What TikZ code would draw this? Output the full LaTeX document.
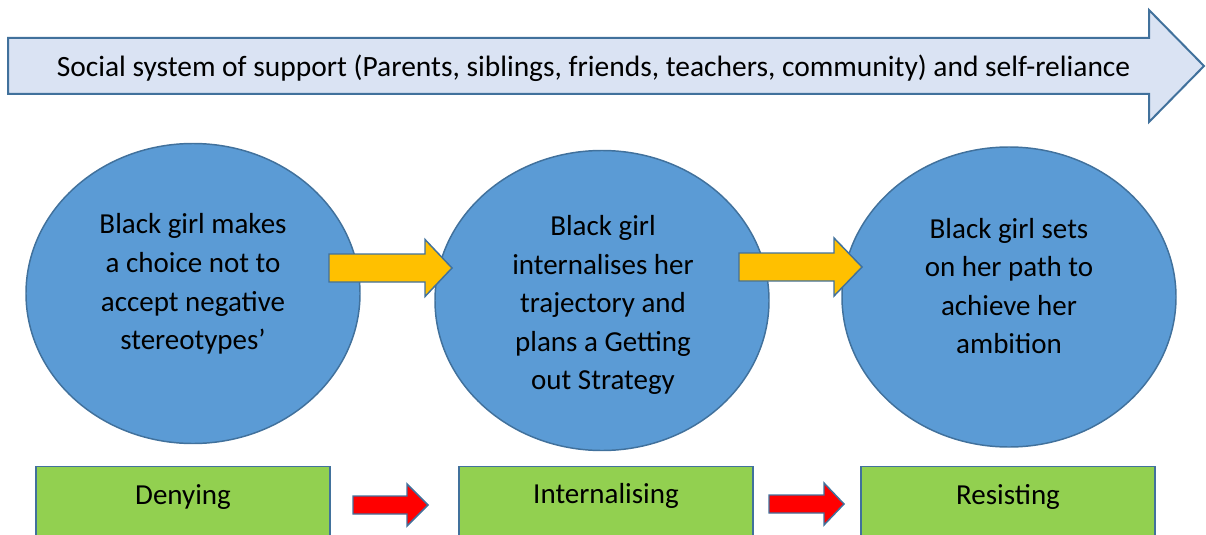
\documentclass[tikz,border=0pt]{standalone}
\usepackage{fontspec}
\setmainfont{Carlito}
\usetikzlibrary{shapes.geometric}
\definecolor{edge}{HTML}{41719C}
\definecolor{bannerbg}{HTML}{DAE3F3}
\definecolor{stagebg}{HTML}{5B9BD5}
\definecolor{pushbg}{HTML}{FFC000}
\definecolor{phasebg}{HTML}{92D050}
\definecolor{stepbg}{HTML}{FF0000}
\tikzset{
  every picture/.style={font=\fontsize{21.75}{28.9}\selectfont},
  banner/.style={draw=edge,fill=bannerbg,line width=1.5pt,line join=miter},
  bannertext/.style={font=\fontsize{22.1}{26}\selectfont},
  stage/.style={ellipse,draw=edge,fill=stagebg,line width=1.1pt,inner sep=0pt,
    minimum width=250.5pt,minimum height=225pt},
  stagetext/.style={align=center,inner sep=0pt},
  push/.style={draw=edge,fill=pushbg,line width=1.1pt,line join=miter},
  stepper/.style={draw=edge,fill=stepbg,line width=1.1pt,line join=miter},
  phase/.style={draw=edge,fill=phasebg,line width=1.1pt,inner sep=0pt,anchor=north,
    minimum width=220.5pt,minimum height=75pt},
}
% block arrow: start x, head x, tip x, centre y, half shaft, half head
\newcommand{\blockarrow}[7]{%
  \draw[#1] (#2,{#5-#6}) -- (#3,{#5-#6}) -- (#3,{#5-#7}) -- (#4,#5)
    -- (#3,{#5+#7}) -- (#3,{#5+#6}) -- (#2,{#5+#6}) -- cycle;}

\begin{document}
\begin{tikzpicture}[x=0.75pt,y=-0.75pt]
  \useasboundingbox (0,0) rectangle (1206,535);
  \clip (0,0) rectangle (1206,535);

  % support running along the whole process
  \draw[banner] (8,38) -- (1149,38) -- (1149,10) -- (1204,66) -- (1149,122)
    -- (1149,94) -- (8,94) -- cycle;
  \node[bannertext] (support) at (593.5,68) {Social system of support (Parents, siblings, friends, teachers, community) and self-reliance};

  % three stages
  \node[stage] (choice) at (193,293.5) {};
  \node[stage] (plan) at (602,300.5) {};
  \node[stage] (path) at (1009,297) {};
  \node[stagetext] (choicetext) at (193,284) {Black girl makes\\a choice not to\\accept negative\\stereotypes’};
  \node[stagetext] (plantext) at (603,305) {Black girl\\internalises her\\trajectory and\\plans a Getting\\out Strategy};
  \node[stagetext] (pathtext) at (1009,286) {Black girl sets\\on her path to\\achieve her\\ambition};

  \blockarrow{push}{329}{425}{452}{268}{14}{28.5}
  \blockarrow{push}{739}{834}{862}{267}{14}{29}

  % phases underneath
  \node[phase] (deny) at (183,466) {};
  \node[phase] (intern) at (606,466) {};
  \node[phase] (resist) at (1008,466) {};
  \node (denytext) at (183,497) {Denying};
  \node (interntext) at (606,496) {Internalising};
  \node (resisttext) at (1008,497) {Resisting};

  \blockarrow{stepper}{353}{407}{428}{505}{9}{21}
  \blockarrow{stepper}{769}{824}{844}{504}{9}{21}
\end{tikzpicture}
\end{document}
